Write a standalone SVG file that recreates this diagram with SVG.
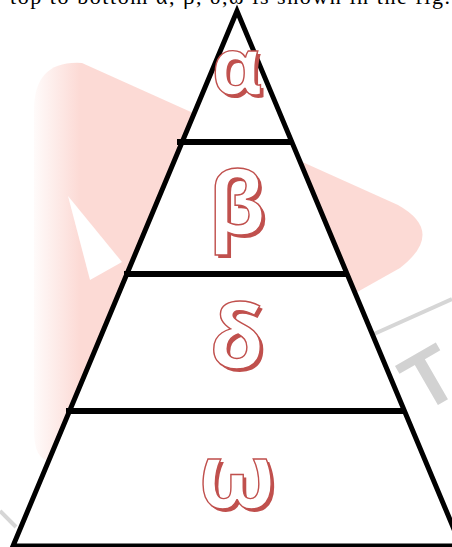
<svg xmlns="http://www.w3.org/2000/svg" width="452" height="547" viewBox="0 0 452 547">
  <defs>
    <linearGradient id="wmfade" gradientUnits="userSpaceOnUse" x1="28" y1="0" x2="80" y2="0">
      <stop offset="0" stop-color="#ffffff"/>
      <stop offset="1" stop-color="#fcdad5"/>
    </linearGradient>
  </defs>
  <style>
    .edge { fill: #ffffff; stroke: #000000; stroke-width: 5; stroke-linejoin: miter; }
    .tier { stroke: #000000; stroke-width: 6; stroke-linecap: butt; }
    .sh { font-family: "Open Sans", "DejaVu Sans", sans-serif; font-weight: 700; fill: #c0504d; text-anchor: middle; }
    .fg { font-family: "Open Sans", "DejaVu Sans", sans-serif; font-weight: 700; fill: #ffffff; stroke: #c0504d; stroke-width: 1.4; text-anchor: middle; }
    .wm { fill: none; stroke: #d6d6d6; stroke-width: 4; }
  </style>
  <rect width="452" height="547" fill="#ffffff"/>

  <!-- faint watermark -->
  <g id="watermark">
    <path d="M 34,110 Q 34,60 82,63 L 398,205 Q 446,232 400,268 L 62,458 Q 34,470 34,430 Z" fill="url(#wmfade)"/>
    <polygon points="68,196 122,262 90,280" fill="#ffffff"/>
    <line class="wm" x1="374" y1="334" x2="452" y2="299"/>
    <line class="wm" x1="0" y1="511" x2="16" y2="527" stroke-width="3"/>
    <text transform="translate(443,402) rotate(-30)" text-anchor="middle" font-family="Liberation Sans, Arial, sans-serif" font-weight="bold" font-size="80" fill="#d2d2d2">T</text>
  </g>

  <!-- cropped caption line at the top -->
  <text x="10" y="4" font-family="Liberation Serif, 'Times New Roman', serif" font-size="22" fill="#000000" textLength="440" lengthAdjust="spacing">top to bottom α, β, δ,ω is shown in the fig.</text>

  <g id="pyramid">
    <polygon class="edge" points="237,11 461,546 13,546"/>
  </g>

  <g id="connectors">
    <line class="tier" x1="177" y1="142" x2="293" y2="142"/>
    <line class="tier" x1="124" y1="274" x2="348" y2="274"/>
    <line class="tier" x1="66" y1="411" x2="405" y2="411" stroke-width="7"/>
  </g>

  <g id="node-alpha">
    <text class="sh" x="240" y="97" font-size="78">α</text>
    <text class="fg" x="237" y="94" font-size="78">α</text>
  </g>
  <g id="node-beta">
    <text class="sh" x="240" y="237" font-size="86">β</text>
    <text class="fg" x="237" y="234" font-size="86">β</text>
  </g>
  <g id="node-delta">
    <text class="sh" x="240" y="371" font-size="88">δ</text>
    <text class="fg" x="237" y="368" font-size="88">δ</text>
  </g>
  <g id="node-omega">
    <text class="sh" x="240" y="511" font-size="90">ω</text>
    <text class="fg" x="237" y="508" font-size="90">ω</text>
  </g>
</svg>
